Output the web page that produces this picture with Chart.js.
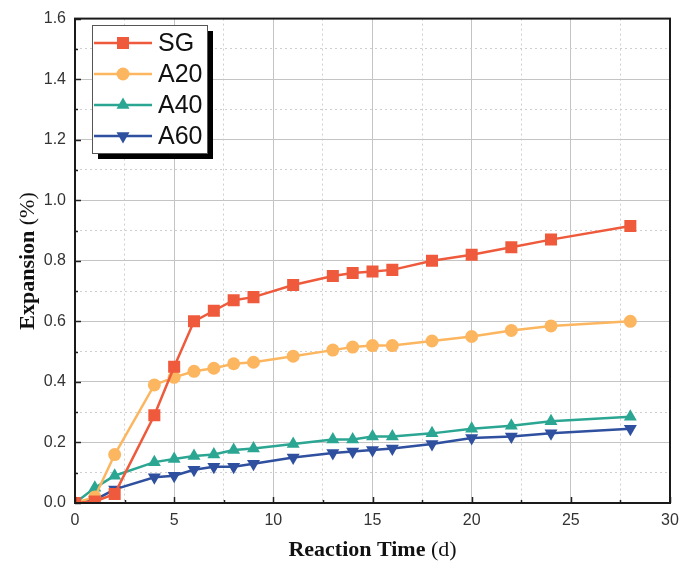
<!DOCTYPE html>
<html>
<head>
<meta charset="utf-8">
<script src="https://cdn.jsdelivr.net/npm/chart.js@4.4.1/dist/chart.umd.min.js"></script>
<style>
  html, body { margin: 0; padding: 0; background: #fff; }
  #wrap { width: 680px; height: 565px; }
</style>
</head>
<body>
<div id="wrap"><canvas id="canvasExpansion"></canvas></div>
<script>
// reaction time in days
var days = [0, 1, 2, 4, 5, 6, 7, 8, 9, 11, 13, 14, 15, 16, 18, 20, 22, 24, 28];

// expansion (%) per mix
var sg  = [0, 0.005, 0.03, 0.29, 0.45, 0.60, 0.635, 0.67, 0.68, 0.72, 0.75, 0.76, 0.765, 0.77, 0.80, 0.82, 0.845, 0.87, 0.915];
var a20 = [0, 0.02, 0.16, 0.39, 0.415, 0.435, 0.445, 0.46, 0.465, 0.485, 0.505, 0.515, 0.52, 0.52, 0.535, 0.55, 0.57, 0.585, 0.60];
var a40 = [0, 0.05, 0.09, 0.135, 0.145, 0.155, 0.16, 0.175, 0.18, 0.195, 0.21, 0.21, 0.22, 0.22, 0.23, 0.245, 0.255, 0.27, 0.285];
var a60 = [0, 0.01, 0.045, 0.085, 0.09, 0.11, 0.12, 0.12, 0.13, 0.15, 0.165, 0.17, 0.175, 0.18, 0.195, 0.215, 0.22, 0.23, 0.245];

var seriesNames = ['SG', 'A20', 'A40', 'A60'];
var xTitle = ['Reaction Time', ' (d)'];
var yTitle = ['Expansion', ' (%)'];

var colors = ['#ee5a3b', '#fdb660', '#2ba693', '#2f4f9f'];
var shapes = ['rect', 'circle', 'triangle', 'triangle'];
var rotations = [0, 0, 0, 180];
var radii = [8.5, 6.5, 7.5, 7.5];

function pts(vals) {
  return vals.map((v, i) => ({ x: days[i], y: v }));
}

var datasets = [sg, a20, a40, a60].map((vals, k) => ({
  label: seriesNames[k],
  data: pts(vals),
  borderColor: colors[k],
  backgroundColor: colors[k],
  borderWidth: 2.5,
  pointStyle: shapes[k],
  rotation: rotations[k],
  pointRadius: radii[k],
  pointBorderWidth: 0,
  tension: 0
}));

function isMajorX(v) { return Math.abs(v % 5) < 1e-6; }
function isMajorY(v) { return Math.round(v * 10) % 2 === 0; }

//frame, inward ticks, axis titles and the boxed legend
var decor = {
  id: 'decor',
  afterDraw(chart) {
    var ctx = chart.ctx;
    var a = chart.chartArea;
    var xs = chart.scales.x, ys = chart.scales.y;
    ctx.save();

    //inward tick marks
    ctx.strokeStyle = '#222';
    ctx.lineWidth = 1.5;
    xs.ticks.forEach(t => {
      var px = Math.round(xs.getPixelForValue(t.value)) + 0.5;
      var len = isMajorX(t.value) ? 6 : 3;
      ctx.beginPath(); ctx.moveTo(px, a.bottom); ctx.lineTo(px, a.bottom - len); ctx.stroke();
    });
    ys.ticks.forEach(t => {
      var py = Math.round(ys.getPixelForValue(t.value)) + 0.5;
      var len = isMajorY(t.value) ? 6 : 3;
      ctx.beginPath(); ctx.moveTo(a.left, py); ctx.lineTo(a.left + len, py); ctx.stroke();
    });

    //frame
    ctx.strokeStyle = '#1a1a1a';
    ctx.lineWidth = 2;
    ctx.strokeRect(a.left, a.top, a.right - a.left, a.bottom - a.top);

    //x axis title, bold name with plain unit
    ctx.fillStyle = '#111';
    ctx.textBaseline = 'alphabetic';
    var fb = 'bold 22px "Liberation Serif", "Times New Roman", serif';
    var fn = '22px "Liberation Serif", "Times New Roman", serif';
    ctx.font = fb; var w1 = ctx.measureText(xTitle[0]).width;
    ctx.font = fn; var w2 = ctx.measureText(xTitle[1]).width;
    var cx = (a.left + a.right) / 2;
    var x0 = cx - (w1 + w2) / 2;
    ctx.textAlign = 'left';
    ctx.font = fb; ctx.fillText(xTitle[0], x0, 556);
    ctx.font = fn; ctx.fillText(xTitle[1], x0 + w1, 556);

    //y axis title, rotated
    ctx.save();
    ctx.translate(34, 261);
    ctx.rotate(-Math.PI / 2);
    ctx.font = fb; w1 = ctx.measureText(yTitle[0]).width;
    ctx.font = fn; w2 = ctx.measureText(yTitle[1]).width;
    x0 = -(w1 + w2) / 2;
    ctx.font = fb; ctx.fillText(yTitle[0], x0, 0);
    ctx.font = fn; ctx.fillText(yTitle[1], x0 + w1, 0);
    ctx.restore();

    //legend box with drop shadow
    var lx = 92, ly = 25, lw = 115, lh = 128;
    ctx.fillStyle = '#000';
    ctx.fillRect(lx + 6, ly + 6, lw, lh);
    ctx.fillStyle = '#fff';
    ctx.fillRect(lx, ly, lw, lh);
    ctx.strokeStyle = '#555';
    ctx.lineWidth = 1;
    ctx.strokeRect(lx + 0.5, ly + 0.5, lw, lh);

    ctx.font = '25px "Liberation Sans", Arial, sans-serif';
    ctx.textBaseline = 'middle';
    ctx.textAlign = 'left';
    chart.data.datasets.forEach((ds, k) => {
      var ry = ly + 18 + k * 31;
      ctx.strokeStyle = ds.borderColor;
      ctx.lineWidth = 2.5;
      ctx.beginPath(); ctx.moveTo(lx + 2, ry); ctx.lineTo(lx + 60, ry); ctx.stroke();
      ctx.fillStyle = ds.backgroundColor;
      Chart.helpers.drawPoint(ctx, {
        pointStyle: ds.pointStyle, rotation: ds.rotation,
        radius: ds.pointRadius, borderWidth: 0
      }, lx + 31, ry);
      ctx.fillStyle = '#111';
      ctx.fillText(ds.label, lx + 66, ry + 1);
    });
    ctx.restore();
  }
};

var gridMajor = '#c4c4c4';
var gridMinor = '#cfcfcf';

var config = {
  type: 'line',
  data: { datasets: datasets },
  options: {
    responsive: true,
    maintainAspectRatio: false,
    animation: false,
    layout: { padding: { top: 17, right: 0, left: 0, bottom: 0 } },
    plugins: {
      legend: { display: false },
      tooltip: { enabled: false }
    },
    scales: {
      x: {
        type: 'linear',
        min: 0,
        max: 30,
        afterFit: (s) => { s.height = 62; s.paddingRight = 10; },
        ticks: {
          stepSize: 2.5,
          autoSkip: false,
          maxRotation: 0,
          padding: 8,
          color: '#333',
          font: { family: '"Liberation Sans", Arial, sans-serif', size: 16 },
          callback: (v) => isMajorX(v) ? String(v) : ''
        },
        grid: {
          drawTicks: false,
          color: (c) => isMajorX(c.tick.value) ? gridMajor : gridMinor,
          lineWidth: 1
        },
        border: {
          display: false,
          dash: (c) => (c.tick && !isMajorX(c.tick.value)) ? [2, 3] : []
        }
      },
      y: {
        min: 0,
        max: 1.6,
        afterFit: (s) => { s.width = 75; },
        ticks: {
          stepSize: 0.1,
          autoSkip: false,
          padding: 9,
          color: '#333',
          font: { family: '"Liberation Sans", Arial, sans-serif', size: 16 },
          callback: (v) => isMajorY(v) ? v.toFixed(1) : ''
        },
        grid: {
          drawTicks: false,
          color: (c) => isMajorY(c.tick.value) ? gridMajor : gridMinor,
          lineWidth: 1
        },
        border: {
          display: false,
          dash: (c) => (c.tick && !isMajorY(c.tick.value)) ? [2, 3] : []
        }
      }
    }
  },
  plugins: [decor]
};

var chart1 = new Chart(document.getElementById('canvasExpansion'), config);
</script>
</body>
</html>
